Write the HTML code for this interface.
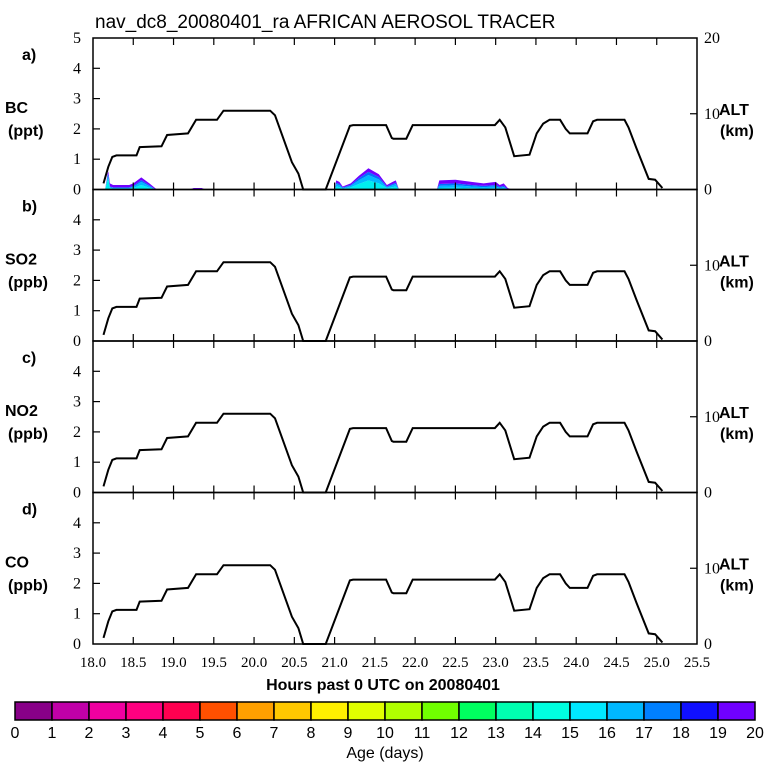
<!DOCTYPE html>
<html><head><meta charset="utf-8">
<style>
html,body{margin:0;padding:0;background:#fff;}
svg{display:block;}
text{fill:#000;}
.sans{font-family:"Liberation Sans",sans-serif;}
.ser{font-family:"Liberation Serif",serif;}
</style></head>
<body>
<svg id="chart" width="768" height="768" viewBox="0 0 768 768" xmlns="http://www.w3.org/2000/svg">
<text class="sans" x="95" y="28" font-size="19">nav_dc8_20080401_ra AFRICAN AEROSOL TRACER</text>
<g id="panels"></g>
<text class="sans" x="383" y="690" font-size="16" font-weight="600" text-anchor="middle">Hours past 0 UTC on 20080401</text>
<g id="cbar"></g>
<text class="sans" x="385" y="758" font-size="16" text-anchor="middle">Age (days)</text>
</svg>
<script>
// ---- data ----
const altHours = [18.13,18.19,18.24,18.29,18.54,18.58,18.85,18.92,19.18,19.28,19.54,19.62,20.20,20.26,20.47,20.55,20.61,20.89,21.19,21.23,21.64,21.71,21.73,21.89,21.97,22.99,23.05,23.12,23.23,23.42,23.51,23.59,23.67,23.80,23.87,23.92,24.14,24.21,24.26,24.60,24.65,24.75,24.90,24.98,25.07];
const altKm = [0.8,3.0,4.3,4.5,4.5,5.6,5.7,7.2,7.4,9.2,9.2,10.4,10.4,9.8,3.6,2.1,0,0,8.4,8.5,8.5,6.8,6.7,6.7,8.5,8.5,9.2,8.2,4.4,4.6,7.4,8.7,9.2,9.2,8.0,7.4,7.4,9.0,9.2,9.2,8.2,5.4,1.4,1.3,0.2];
const trHours = [18.15,18.18,18.19,18.21,18.25,18.45,18.5,18.6,18.7,18.78,18.8,19.2,19.25,19.35,19.4,21.0,21.02,21.06,21.1,21.2,21.3,21.42,21.55,21.65,21.72,21.76,21.8,22.27,22.3,22.5,22.7,22.85,23.0,23.05,23.1,23.15,23.2];
const layerCyan   = [0,0.3,0.35,0.05,0.03,0.03,0.05,0.15,0.06,0,0,0,0,0,0,0,0.1,0.08,0.03,0.07,0.18,0.3,0.2,0.05,0.08,0.1,0,0,0.05,0.06,0.04,0.03,0.04,0.02,0.03,0,0];
const layerLight  = [0,0.1,0.1,0.03,0.02,0.02,0.04,0.1,0.05,0,0,0,0,0,0,0,0.08,0.06,0.02,0.05,0.12,0.18,0.13,0.03,0.06,0.08,0,0,0.07,0.08,0.06,0.05,0.06,0.04,0.05,0.01,0];
const layerBlue   = [0,0.05,0.05,0.02,0.02,0.02,0.03,0.06,0.03,0,0,0,0,0,0,0,0.04,0.04,0.02,0.03,0.07,0.1,0.08,0.02,0.04,0.04,0,0,0.06,0.06,0.05,0.04,0.05,0.03,0.04,0.01,0];
const layerPurple = [0,0.05,0.1,0.1,0.08,0.08,0.08,0.09,0.06,0.03,0,0,0.05,0.05,0,0,0.08,0.07,0.03,0.05,0.08,0.12,0.09,0.05,0.07,0.08,0,0,0.12,0.12,0.1,0.08,0.1,0.06,0.08,0.03,0];
const xTickLabels = ["18.0","18.5","19.0","19.5","20.0","20.5","21.0","21.5","22.0","22.5","23.0","23.5","24.0","24.5","25.0","25.5"];
const panelIds = ["a)","b)","c)","d)"];
const panelSpecies = ["BC","SO2","NO2","CO"];
const panelUnits = ["(ppt)","(ppb)","(ppb)","(ppb)"];
const ageColors = ["#880088","#c000a8","#f000a0","#ff0080","#ff0050","#ff5000","#ffa000","#ffc800","#fff000","#e0ff00","#b0ff00","#70ff00","#00ff60","#00ffb0","#00ffe0","#00e8ff","#00b8ff","#0080ff","#1010ff","#7000ff"];
const ageLabels = ["0","1","2","3","4","5","6","7","8","9","10","11","12","13","14","15","16","17","18","19","20"];

// ---- layout ----
const X0=93, X1=697, H0=18, H1=25.5;
const tops=[38,189.5,341,492.5], PH=151.5;
const xs = h => X0 + (h-H0)*(X1-X0)/(H1-H0);
const yKm = (p,km) => tops[p]+PH - km*PH/20;
const yVal = (p,v) => tops[p]+PH - v*PH/5;
const NS="http://www.w3.org/2000/svg";
function mk(tag, attrs, parent){ const e=document.createElementNS(NS,tag); for(const k in attrs) e.setAttribute(k,attrs[k]); parent.appendChild(e); return e; }
const panels=document.getElementById('panels');

for(let p=0;p<4;p++){
  const g=mk('g',{},panels);
  
  
  const top=tops[p], bot=top+PH;
  if(p===0){
    const layers=[layerCyan,layerLight,layerBlue,layerPurple];
    const cols=["#00eef0","#00b8ff","#0070ff","#7000ff"];
    const names=["tracer-age-15","tracer-age-16","tracer-age-17","tracer-age-19"];
    let base=trHours.map(()=>0);
    layers.forEach((L,i)=>{
      const upper=base.map((b,j)=>b+L[j]);
      let d='M'+trHours.map((h,j)=>xs(h).toFixed(1)+','+yVal(p,upper[j]).toFixed(1)).join(' L');
      for(let j=trHours.length-1;j>=0;j--) d+=' L'+xs(trHours[j]).toFixed(1)+','+yVal(p,base[j]).toFixed(1);
      const path=mk('path',{d:d+'Z',fill:cols[i],stroke:'none'},g);
      
      
      base=upper;
    });
  }
  const al=mk('polyline',{points:altHours.map((h,j)=>xs(h).toFixed(1)+','+yKm(p,altKm[j]).toFixed(1)).join(' '),fill:'none',stroke:'#000','stroke-width':2},g);
  
  
  const fr=mk('rect',{x:X0,y:top,width:X1-X0,height:PH,fill:'none',stroke:'#000','stroke-width':1.5},g);
  
  
  for(let i=1;i<xTickLabels.length-1;i++){
    const x=xs(parseFloat(xTickLabels[i]));
    mk('line',{x1:x,x2:x,y1:top,y2:top+7,stroke:'#000','stroke-width':1.2},g);
    mk('line',{x1:x,x2:x,y1:bot,y2:bot-7,stroke:'#000','stroke-width':1.2},g);
  }
  for(let v=0;v<=5;v++){
    const y=yVal(p,v);
    if(v>0&&v<5) mk('line',{x1:X0,x2:X0+7,y1:y,y2:y,stroke:'#000','stroke-width':1.2},g);
    if(v<5||p===0){
      const t=mk('text',{x:81,y:y+5,'font-size':16,'text-anchor':'end',class:'ser'},g);
      t.textContent=String(v);
      
      
    }
  }
  const yr=yKm(p,10);
  mk('line',{x1:X1-7,x2:X1,y1:yr,y2:yr,stroke:'#000','stroke-width':1.2},g);
  const rl=[[0,'0'],[10,'10']]; if(p===0) rl.push([20,'20']);
  rl.forEach(r=>{
    const t=mk('text',{x:704,y:yKm(p,r[0])+5,'font-size':16,class:'ser'},g);
    t.textContent=r[1];
    
    
  });
  const lab=[[panelIds[p],22,top+22,'panel-label'],[panelSpecies[p],5,top+75,'y-axis-title'],[panelUnits[p],8,top+98,'y-axis-units']];
  lab.forEach(l=>{
    const t=mk('text',{x:l[1],y:l[2],'font-size':16,'font-weight':'600',class:'sans'},g);
    t.textContent=l[0];
    
    
  });
  const a1=mk('text',{x:719,y:top+77,'font-size':16,'font-weight':'600',class:'sans'},g); a1.textContent='ALT';
  
  
  const a2=mk('text',{x:720,y:top+98,'font-size':16,'font-weight':'600',class:'sans'},g); a2.textContent='(km)';
  
  
}
xTickLabels.forEach(s=>{
  const t=mk('text',{x:xs(parseFloat(s)),y:667,'font-size':15,'text-anchor':'middle',class:'ser'},panels);
  t.textContent=s;
  
  
});
const cb=document.getElementById('cbar');
const CB0=15, CB1=755, cw=(CB1-CB0)/ageColors.length;
ageColors.forEach((c,i)=>{
  const r=mk('rect',{x:CB0+i*cw,y:702,width:cw,height:18,fill:c,stroke:'#000','stroke-width':1.5},cb);
  
  
});
ageLabels.forEach((s,i)=>{
  const t=mk('text',{x:CB0+i*cw,y:738,'font-size':16,'text-anchor':'middle',class:'sans'},cb);
  t.textContent=s;
  
  
});
</script>
</body></html>
